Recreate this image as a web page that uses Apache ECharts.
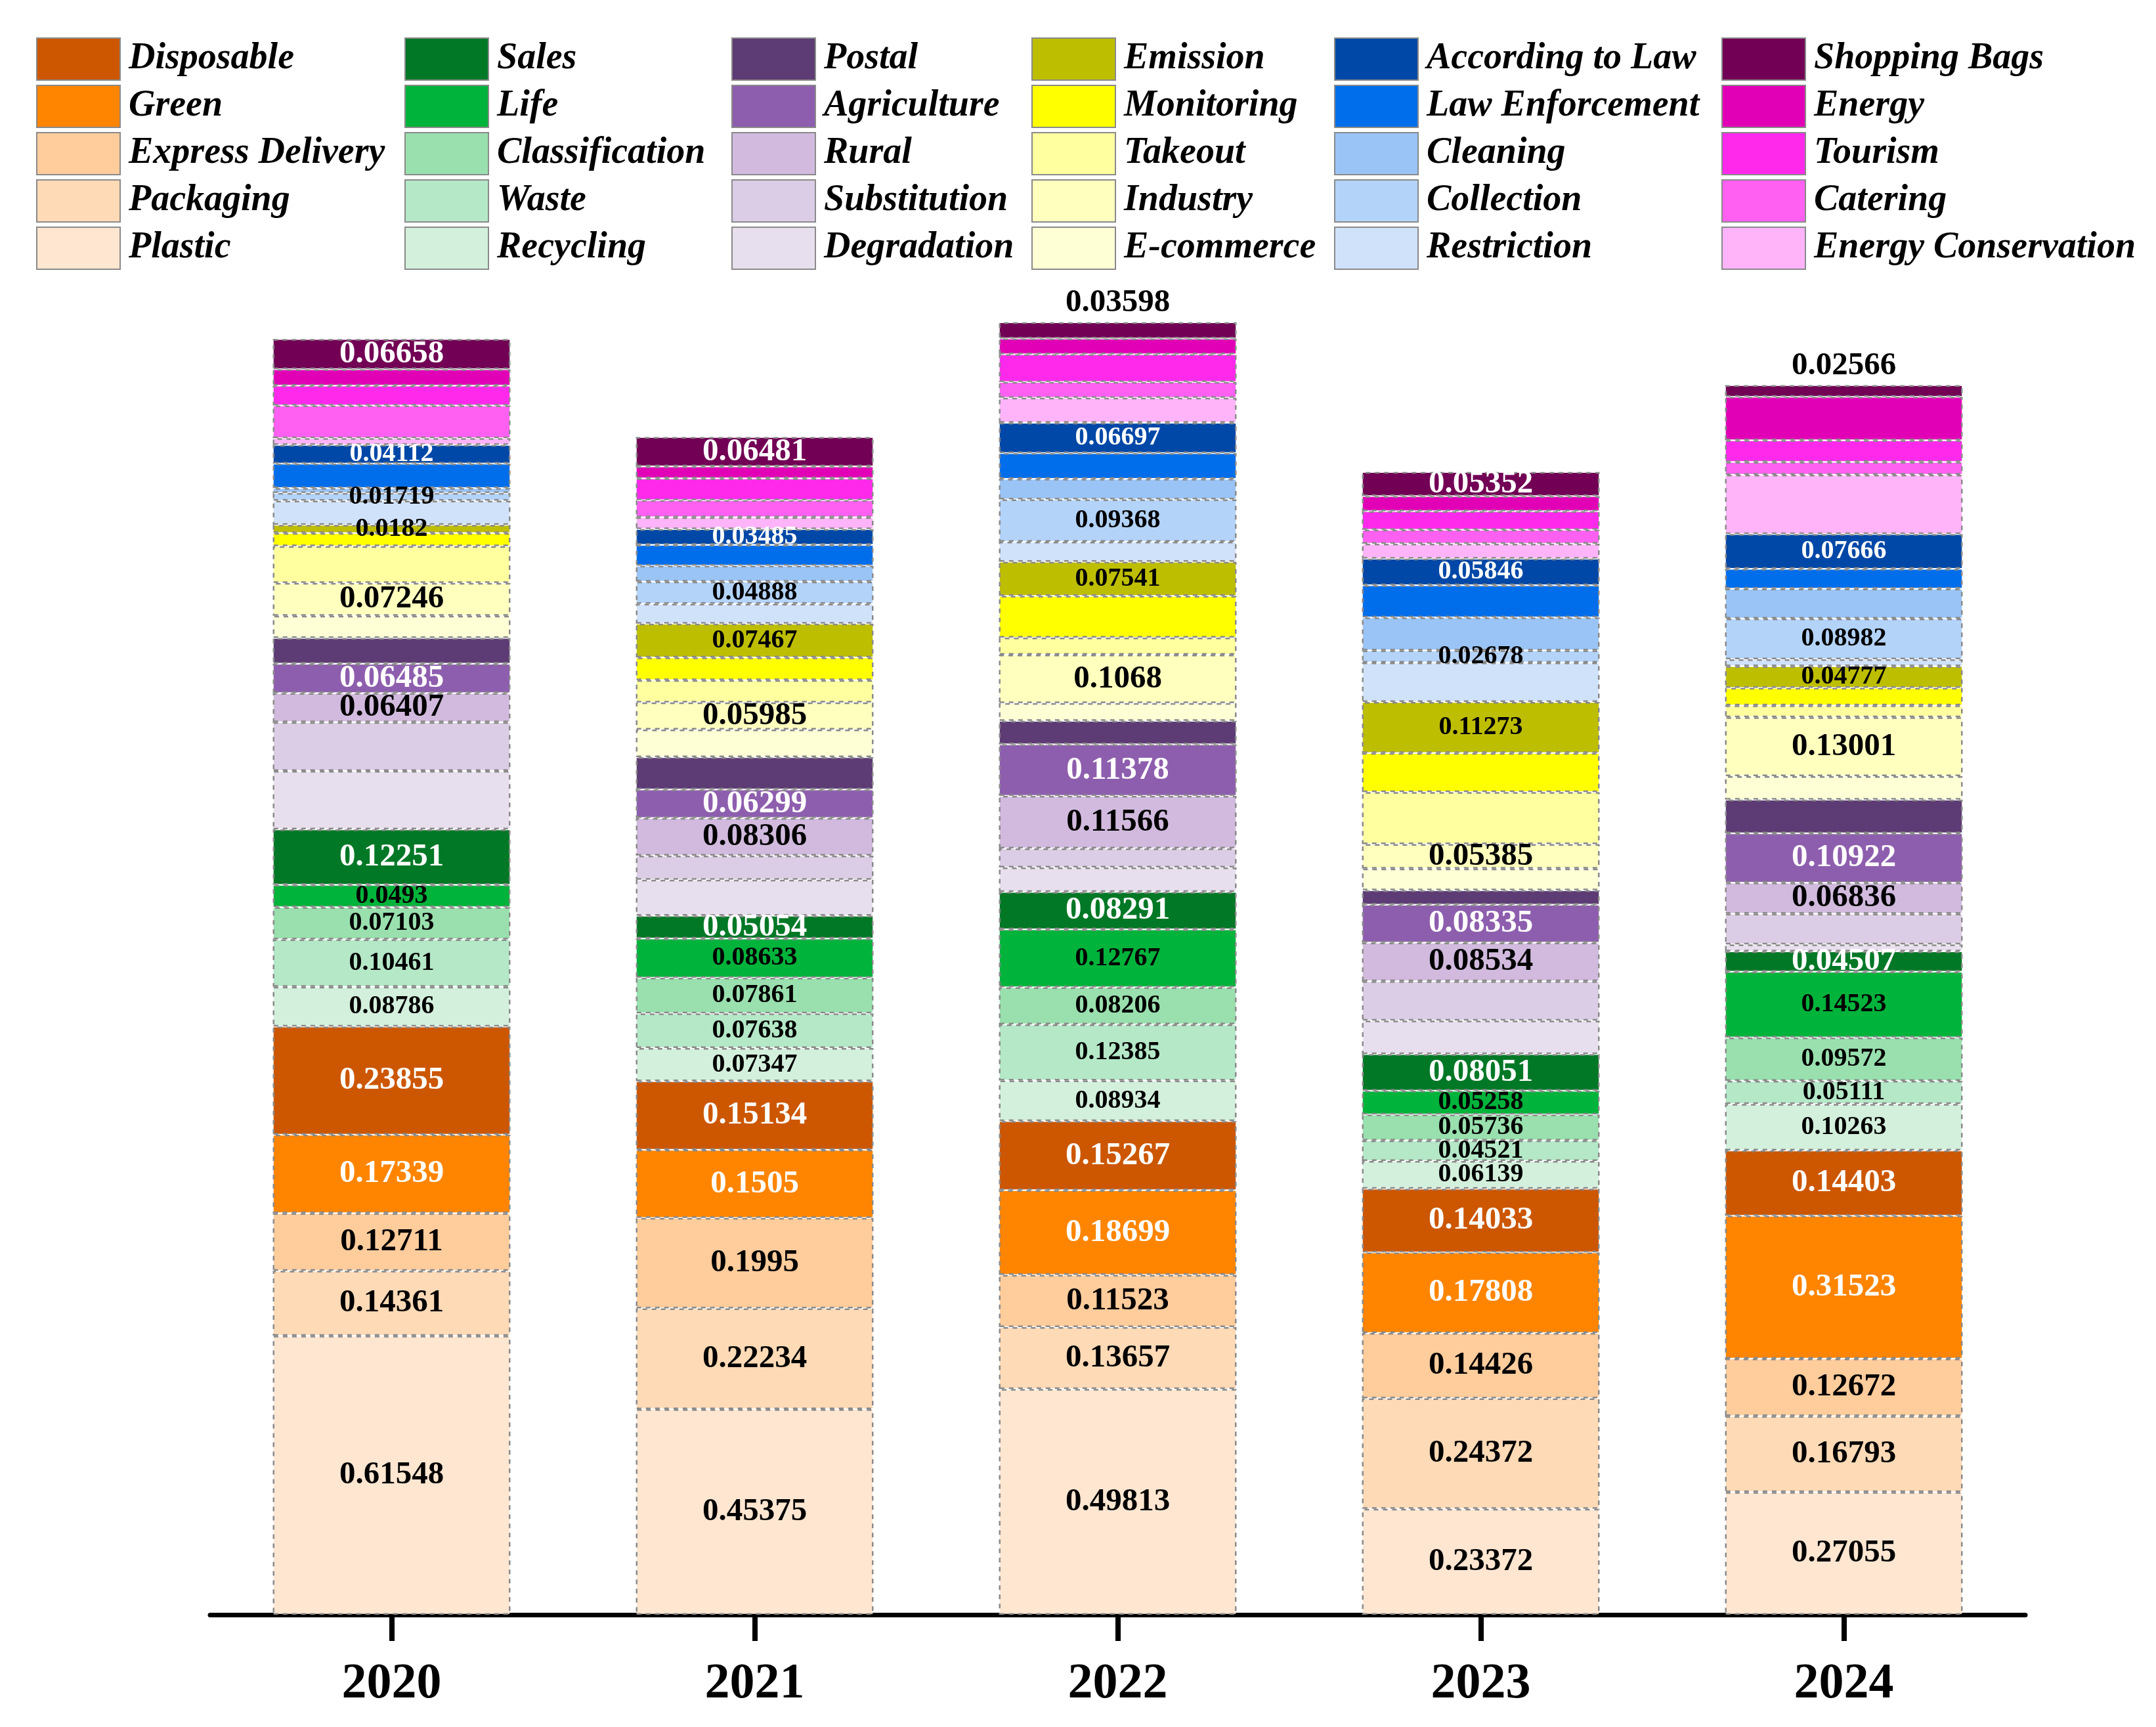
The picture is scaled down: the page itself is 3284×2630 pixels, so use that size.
<!DOCTYPE html>
<html>
<head>
<meta charset="utf-8">
<script src="https://cdn.jsdelivr.net/npm/echarts@6/dist/echarts.min.js"></script>
<style>
  html, body { margin: 0; padding: 0; background: #fff; }
  #chart { width: 3284px; height: 2630px; }
</style>
</head>
<body>
<div id="chart"></div>
<script>
const years = ["2020", "2021", "2022", "2023", "2024"];

// orange group
const plastic = [0.61548, 0.45375, 0.49813, 0.23372, 0.27055];
const packaging = [0.14361, 0.22234, 0.13657, 0.24372, 0.16793];
const expressDelivery = [0.12711, 0.1995, 0.11523, 0.14426, 0.12672];
const green = [0.17339, 0.1505, 0.18699, 0.17808, 0.31523];
const disposable = [0.23855, 0.15134, 0.15267, 0.14033, 0.14403];
// green group
const recycling = [0.08786, 0.07347, 0.08934, 0.06139, 0.10263];
const waste = [0.10461, 0.07638, 0.12385, 0.04521, 0.05111];
const classification = [0.07103, 0.07861, 0.08206, 0.05736, 0.09572];
const life = [0.0493, 0.08633, 0.12767, 0.05258, 0.14523];
const sales = [0.12251, 0.05054, 0.08291, 0.08051, 0.04507];
// purple group
const degradation = [0.129, 0.0795, 0.054, 0.074, 0.015];
const substitution = [0.1075, 0.053, 0.042, 0.087, 0.068];
const rural = [0.06407, 0.08306, 0.11566, 0.08534, 0.06836];
const agriculture = [0.06485, 0.06299, 0.11378, 0.08335, 0.10922];
const postal = [0.057, 0.0714, 0.052, 0.032, 0.074];
// yellow group
const eCommerce = [0.049, 0.061, 0.039, 0.048, 0.052];
const industry = [0.07246, 0.05985, 0.1068, 0.05385, 0.13001];
const takeout = [0.081, 0.049, 0.038, 0.115, 0.026];
const monitoring = [0.029, 0.05, 0.092, 0.086, 0.039];
const emission = [0.0182, 0.07467, 0.07541, 0.11273, 0.04777];
// blue group
const restriction = [0.053, 0.044, 0.044, 0.087, 0.015];
const collection = [0.01719, 0.04888, 0.09368, 0.02678, 0.08982];
const cleaning = [0.011, 0.035, 0.045, 0.073, 0.066];
const lawEnforcement = [0.054, 0.046, 0.057, 0.071, 0.044];
const accordingToLaw = [0.04112, 0.03485, 0.06697, 0.05846, 0.07666];
// pink group
const energyConservation = [0.015, 0.026, 0.055, 0.033, 0.131];
const catering = [0.072, 0.038, 0.035, 0.031, 0.028];
const tourism = [0.044, 0.048, 0.061, 0.041, 0.048];
const energy = [0.036, 0.0265, 0.035, 0.033, 0.096];
const shoppingBags = [0.06658, 0.06481, 0.03598, 0.05352, 0.02566];

// stacking order, bottom first
const stackOrder = [
  ["Plastic", plastic, "#FEE6D1"],
  ["Packaging", packaging, "#FFDAB6"],
  ["Express Delivery", expressDelivery, "#FFCC9C"],
  ["Green", green, "#FF8500"],
  ["Disposable", disposable, "#CC5700"],
  ["Recycling", recycling, "#D3F0DC"],
  ["Waste", waste, "#B4E8C7"],
  ["Classification", classification, "#99E0AE"],
  ["Life", life, "#00B33B"],
  ["Sales", sales, "#007826"],
  ["Degradation", degradation, "#E8DFEE"],
  ["Substitution", substitution, "#DCCDE6"],
  ["Rural", rural, "#D2BADE"],
  ["Agriculture", agriculture, "#8E5EAE"],
  ["Postal", postal, "#5D3B74"],
  ["E-commerce", eCommerce, "#FFFFD6"],
  ["Industry", industry, "#FFFFBE"],
  ["Takeout", takeout, "#FFFFA0"],
  ["Monitoring", monitoring, "#FFFF00"],
  ["Emission", emission, "#BEBE00"],
  ["Restriction", restriction, "#D0E2FA"],
  ["Collection", collection, "#B3D3F9"],
  ["Cleaning", cleaning, "#9AC4F5"],
  ["Law Enforcement", lawEnforcement, "#006EEB"],
  ["According to Law", accordingToLaw, "#0048A7"],
  ["Energy Conservation", energyConservation, "#FFB4F9"],
  ["Catering", catering, "#FF60F1"],
  ["Tourism", tourism, "#FF29EC"],
  ["Energy", energy, "#E200B6"],
  ["Shopping Bags", shoppingBags, "#720055"],
];

const legendColumns = [
  ["Disposable", "Green", "Express Delivery", "Packaging", "Plastic"],
  ["Sales", "Life", "Classification", "Waste", "Recycling"],
  ["Postal", "Agriculture", "Rural", "Substitution", "Degradation"],
  ["Emission", "Monitoring", "Takeout", "Industry", "E-commerce"],
  ["According to Law", "Law Enforcement", "Cleaning", "Collection", "Restriction"],
  ["Shopping Bags", "Energy", "Tourism", "Catering", "Energy Conservation"],
];
const legendLeft = [50, 611, 1109, 1566, 2027, 2617];

const labelled = ["Plastic", "Packaging", "Express Delivery", "Green", "Disposable",
  "Recycling", "Waste", "Classification", "Life", "Sales", "Rural", "Agriculture",
  "Industry", "Emission", "Collection", "According to Law", "Shopping Bags"];
const whiteLabels = ["Green", "Disposable", "Sales", "Agriculture", "According to Law", "Shopping Bags"];
const smallLabels = ["Recycling", "Waste", "Classification", "Life", "Emission", "Collection", "According to Law"];

const serif = "'Liberation Serif', 'Times New Roman', serif";

const series = stackOrder.map(([name, values, color]) => {
  const show = labelled.includes(name);
  const data = values.map((v) => {
    // thin top segments get their label above the bar
    if (name === "Shopping Bags" && v < 0.04) {
      return { value: v, label: { position: "top", color: "#000" } };
    }
    return v;
  });
  return {
    name: name,
    type: "bar",
    stack: "total",
    barWidth: 362,
    data: data,
    itemStyle: {
      color: color,
      borderColor: "#8a8a8a",
      borderWidth: 2.5,
      borderType: [7, 7],
    },
    label: {
      show: show,
      position: "inside",
      color: whiteLabels.includes(name) ? "#fff" : "#000",
      fontFamily: serif,
      fontWeight: "bold",
      fontSize: smallLabels.includes(name) ? 40 : 49,
    },
  };
});

const legends = legendColumns.map((names, i) => ({
  data: names,
  orient: "vertical",
  left: legendLeft[i],
  top: 52,
  itemWidth: 127,
  itemHeight: 64,
  itemGap: 6,
  icon: "rect",
  selectedMode: false,
  textStyle: {
    fontFamily: serif,
    fontStyle: "italic",
    fontWeight: "bold",
    fontSize: 56,
    lineHeight: 64,
    color: "#000",
    padding: [0, 0, 0, 8],
  },
}));

const chart = echarts.init(document.getElementById("chart"), null, { renderer: "canvas" });
chart.setOption({
  animation: false,
  backgroundColor: "#fff",
  legend: legends,
  grid: {
    left: 320,
    right: 199,
    top: 389,
    bottom: 171,
  },
  xAxis: {
    type: "category",
    data: years,
    axisLine: {
      lineStyle: { color: "#000", width: 7 },
    },
    axisTick: {
      show: true,
      alignWithLabel: true,
      length: 40,
      lineStyle: { color: "#000", width: 8 },
    },
    axisLabel: {
      color: "#000",
      fontFamily: serif,
      fontWeight: "bold",
      fontSize: 76,
      margin: 68,
    },
  },
  yAxis: {
    type: "value",
    min: 0,
    max: 3,
    show: false,
  },
  series: series,
});
</script>
</body>
</html>
